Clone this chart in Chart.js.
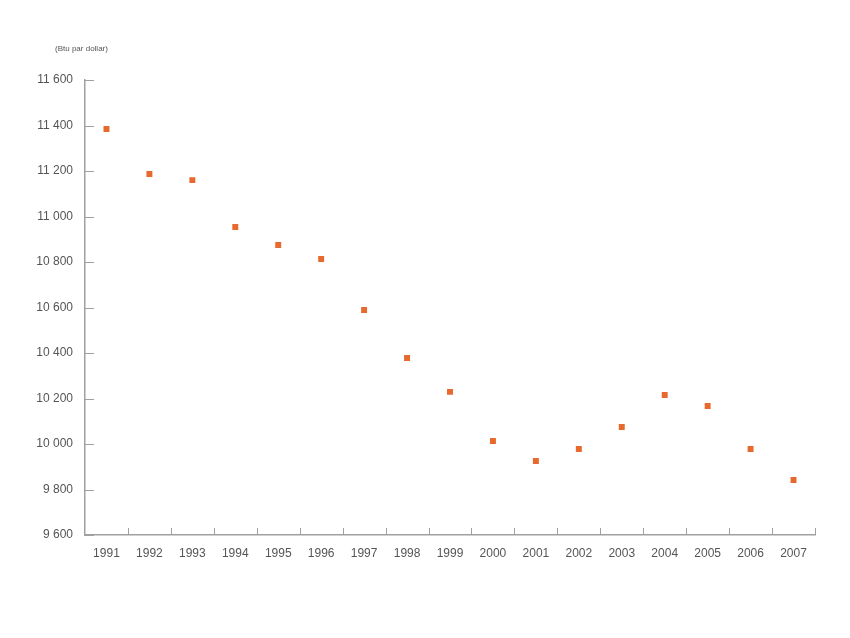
<!DOCTYPE html>
<html>
<head>
<meta charset="utf-8">
<script src="https://cdn.jsdelivr.net/npm/chart.js@4"></script>
<style>
  html, body { margin: 0; padding: 0; background: #fff; }
  #wrap { width: 850px; height: 638px; }
</style>
</head>
<body>
<div id="wrap"><canvas id="chart" width="850" height="638"></canvas></div>
<script>
// values
const years = ['1991', '1992', '1993', '1994', '1995', '1996', '1997', '1998', '1999',
               '2000', '2001', '2002', '2003', '2004', '2005', '2006', '2007'];
const btuPerDollar = [11385, 11187, 11160, 10954, 10875, 10813, 10589, 10378, 10229,
                      10013, 9925, 9978, 10075, 10215, 10167, 9978, 9842];
const yMin = 9600;
const yMax = 11600;
const yStep = 200;
const unitLabel = '(Btu par dollar)';

const axisColor = '#a0a0a0';
const textColor = '#555555';
const dotColor = '#e8692d';

// short tick marks drawn inward from the axes, plus the unit label
const innerTicks = {
    id: 'innerTicks',
    afterDraw(chart) {
        const ctx = chart.ctx;
        const x = chart.scales.x, y = chart.scales.y;
        const area = chart.chartArea;
        ctx.save();
        ctx.strokeStyle = axisColor;
        ctx.lineWidth = 1;
        ctx.beginPath();
        y.ticks.forEach(t => {
            const py = Math.round(y.getPixelForValue(t.value)) + 0.5;
            ctx.moveTo(area.left, py);
            ctx.lineTo(area.left + 9, py);
        });
        for (let i = 1; i <= years.length; i++) {
            const px = Math.round(x.getPixelForValue(i - 0.5)) + 0.5;
            ctx.moveTo(px, area.bottom);
            ctx.lineTo(px, area.bottom - 7);
        }
        ctx.stroke();
        ctx.fillStyle = textColor;
        ctx.font = '8px "Liberation Sans", Arial, sans-serif';
        ctx.textBaseline = 'middle';
        ctx.fillText(unitLabel, 55, 49);
        ctx.restore();
    }
};

new Chart(document.getElementById('chart'), {
    type: 'scatter',
    data: {
        labels: years,
        datasets: [{
            type: 'line',
            data: btuPerDollar,
            showLine: false,
            pointStyle: 'rect',
            pointRadius: 4.2,
            pointHoverRadius: 4.2,
            pointBorderWidth: 0,
            pointBackgroundColor: dotColor,
            backgroundColor: dotColor
        }]
    },
    options: {
        responsive: false,
        animation: false,
        layout: { padding: { top: 80, right: 35, bottom: 63, left: 0 } },
        plugins: { legend: { display: false }, tooltip: { enabled: false } },
        scales: {
            x: {
                type: 'category',
                offset: true,
                grid: { display: false, drawTicks: false },
                border: { display: true, color: axisColor, width: 1.5 },
                ticks: {
                    color: textColor,
                    padding: 11,
                    maxRotation: 0,
                    autoSkip: false,
                    font: { family: '"Liberation Sans", Arial, sans-serif', size: 12 }
                },
                afterFit(scale) { scale.height = 40; }
            },
            y: {
                min: yMin,
                max: yMax,
                grid: { display: false, drawTicks: false },
                border: { display: true, color: axisColor, width: 1.5 },
                ticks: {
                    stepSize: yStep,
                    color: textColor,
                    padding: 12,
                    font: { family: '"Liberation Sans", Arial, sans-serif', size: 12 },
                    callback: v => v.toLocaleString('fr-FR').replace(/\s/g, ' ')
                },
                afterFit(scale) { scale.width = 85; }
            }
        }
    },
    plugins: [innerTicks]
});
</script>
</body>
</html>
